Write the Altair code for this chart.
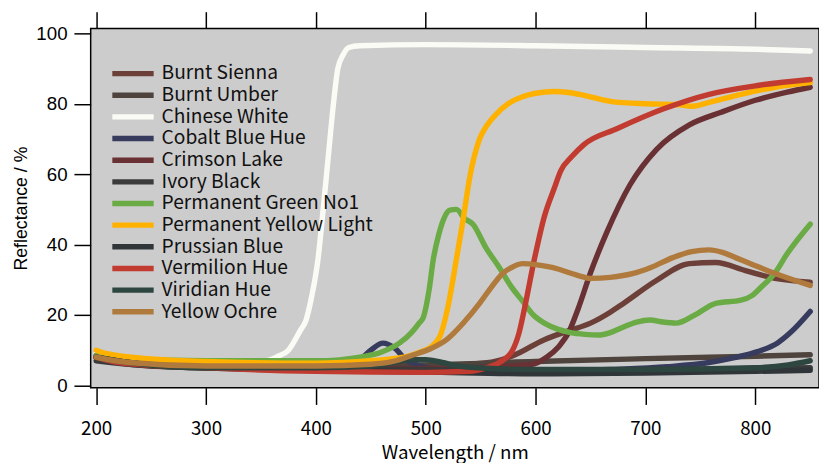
import altair as alt
import pandas as pd

names = ["Burnt Sienna", "Burnt Umber", "Chinese White", "Cobalt Blue Hue",
         "Crimson Lake", "Ivory Black", "Permanent Green No1",
         "Permanent Yellow Light", "Prussian Blue", "Vermilion Hue",
         "Viridian Hue", "Yellow Ochre"]
colors = ["#6c4038", "#4e433d", "#fbfbf6", "#373b5e", "#6a3135", "#3b3b3b",
          "#6aab45", "#ffb100", "#2f3539", "#c23b30", "#2e4640", "#b07a3c"]

x_ticks = [200, 300, 400, 500, 600, 700, 800]
y_ticks = [0, 20, 40, 60, 80, 100]

burnt_sienna_wl = [200, 220, 250, 300, 400, 500, 540, 563, 580, 608, 630, 650, 668, 680, 710, 740, 764, 791, 818, 850]
burnt_sienna_r = [8.5, 7, 6, 5.5, 5, 5.3, 6, 6.8, 8.5, 13, 15.5, 17.7, 20.8, 23.3, 29.8, 34.6, 34.9, 32.6, 30.4, 29.3]

burnt_umber_wl = [200, 220, 250, 300, 400, 500, 600, 700, 800, 850]
burnt_umber_r = [8, 6.8, 6, 5.5, 5.5, 5.8, 6.8, 7.6, 8.3, 8.7]

chinese_white_wl = [200, 220, 250, 300, 340, 355, 365, 375, 386, 391, 396, 402, 406, 411, 416, 420, 425, 430, 440, 500, 600, 700, 800, 850]
chinese_white_r = [9, 7.5, 7, 6.8, 6.6, 7, 8.2, 10, 15.7, 18.5, 25, 36, 48, 64, 80, 90, 94, 96, 96.5, 96.8, 96.5, 96, 95.5, 95]

cobalt_wl = [200, 220, 250, 300, 350, 420, 440, 450, 461, 472, 482, 495, 509, 549, 600, 668, 720, 758, 780, 802, 820, 832, 850]
cobalt_r = [8.5, 7, 6, 5.8, 6, 6.5, 7.5, 10, 12, 10.5, 7.3, 5.5, 4.5, 3.7, 3.9, 4.5, 5.3, 6.5, 7.8, 9.6, 12, 15, 21]

crimson_wl = [200, 220, 250, 300, 400, 500, 563, 597, 610, 621, 630, 639, 650, 665, 686, 710, 740, 769, 800, 829, 850]
crimson_r = [8, 6.5, 5.5, 5, 4.8, 4.8, 5.3, 6, 8, 11, 15, 22, 32, 43.6, 57, 67, 74, 77.6, 81, 83.3, 84.7]

ivory_wl = [200, 230, 300, 400, 500, 600, 700, 800, 850]
ivory_r = [7, 6, 5, 4.6, 4.5, 4.3, 4.5, 4.8, 5]

green_wl = [200, 230, 300, 400, 443, 460, 476, 487, 494, 498, 503, 507, 512, 516, 522, 528, 535, 543, 555, 567, 578, 588, 598, 608, 620, 632, 645, 657, 668, 680, 692, 704, 716, 728, 745, 764, 787, 797, 805, 818, 829, 850]
green_r = [8.5, 7.5, 7, 7, 8.2, 9.5, 12, 15, 17.7, 19.5, 27, 36, 43, 47, 49.8, 50, 47.5, 45.8, 39, 33.5, 28, 24, 20, 17.7, 16, 15, 14.5, 14.3, 15, 16.6, 18, 18.6, 18, 17.7, 20, 23.3, 24.2, 25.5, 27.8, 32, 37.4, 45.8]

yellow_wl = [200, 210, 250, 300, 400, 450, 480, 495, 505, 513, 520, 528, 534, 540, 549, 556, 564, 575, 588, 600, 617, 630, 644, 668, 700, 728, 743, 758, 787, 818, 850]
yellow_r = [10, 9, 7.5, 6.8, 6.3, 7, 8, 9.5, 11, 14, 22, 36, 47, 59, 70, 74, 77, 80, 82, 83, 83.5, 83.2, 82.4, 80.7, 80, 79.8, 79.3, 80.4, 82.7, 84.7, 86]

prussian_wl = [200, 230, 300, 400, 500, 600, 700, 800, 850]
prussian_r = [8, 6.5, 5, 4.3, 3.8, 3.3, 3.5, 4, 4.3]

vermilion_wl = [200, 220, 300, 400, 500, 540, 555, 567, 579, 585, 590, 599, 608, 617, 623, 633, 644, 674, 716, 758, 802, 850]
vermilion_r = [8, 6.5, 5, 4, 3.7, 4, 5, 6.5, 10, 15, 22, 36, 48, 56, 61, 65, 68.4, 72.9, 78.5, 82.7, 85.2, 86.9]

viridian_wl = [200, 230, 300, 400, 450, 470, 485, 500, 515, 530, 560, 600, 700, 800, 830, 850]
viridian_r = [8, 6.5, 5, 5, 5.5, 6.5, 7.3, 7.3, 6.5, 5.5, 4.8, 4.5, 4.5, 5, 5.8, 7]

ochre_wl = [200, 230, 300, 400, 450, 470, 489, 505, 519, 535, 549, 560, 570, 580, 588, 600, 615, 639, 650, 668, 689, 705, 725, 742, 758, 770, 782, 800, 818, 850]
ochre_r = [8, 6.5, 5.5, 5.5, 6, 6.8, 8.7, 10.5, 13, 18, 23.3, 28, 31.8, 33.8, 34.6, 34.3, 33.5, 31.2, 30.4, 30.7, 31.8, 33.5, 36.3, 38, 38.5, 37.8, 36.3, 34, 31.8, 28.4]

series = [
    (burnt_sienna_wl, burnt_sienna_r), (burnt_umber_wl, burnt_umber_r),
    (chinese_white_wl, chinese_white_r), (cobalt_wl, cobalt_r),
    (crimson_wl, crimson_r), (ivory_wl, ivory_r),
    (green_wl, green_r), (yellow_wl, yellow_r),
    (prussian_wl, prussian_r), (vermilion_wl, vermilion_r),
    (viridian_wl, viridian_r), (ochre_wl, ochre_r),
]

rows = []
for name, (wl, r) in zip(names, series):
    for w, v in zip(wl, r):
        rows.append({"Pigment": name, "wl": w, "r": v})
df = pd.DataFrame(rows)

xdom = [195, 858]
ydom = [-0.65, 101.4]
xscale = alt.Scale(domain=xdom, nice=False, zero=False)

lines = alt.Chart(df).mark_line(strokeWidth=5.5, interpolate="monotone", strokeCap="round").encode(
    x=alt.X("wl:Q", scale=xscale,
            axis=alt.Axis(title="Wavelength / nm", values=x_ticks,
                          tickSize=17, labelPadding=16, labelFont="Noto Sans CJK JP",
                          labelFontSize=19, titleFont="Noto Sans CJK JP", titleFontSize=19,
                          titleFontWeight="normal", titlePadding=5)),
    y=alt.Y("r:Q", scale=alt.Scale(domain=ydom, nice=False, zero=False),
            axis=alt.Axis(title="Reflectance / %", values=y_ticks,
                          tickSize=17, labelPadding=7, labelFont="Liberation Sans",
                          labelFontSize=19, titleFont="Liberation Sans", titleFontSize=18,
                          titleFontWeight="normal", titlePadding=5)),
    color=alt.Color("Pigment:N", scale=alt.Scale(domain=names, range=colors),
                    legend=alt.Legend(title=None, orient="none", legendX=19, legendY=35,
                                      padding=0, symbolType="stroke", symbolSize=1764,
                                      symbolStrokeWidth=5.5, labelFont="Noto Sans CJK JP",
                                      labelFontSize=19.5, labelColor="#111111",
                                      labelLimit=400, clipHeight=21.7,
                                      rowPadding=0, labelOffset=5)),
    order=alt.Order("Pigment:N"),
)

top = alt.Chart(pd.DataFrame({"wl": x_ticks})).mark_rule(opacity=0).encode(
    x=alt.X("wl:Q", scale=xscale,
            axis=alt.Axis(orient="top", title=None, labels=False, tickSize=17,
                          values=x_ticks)),
)

chart = alt.layer(lines, top).resolve_axis(x="independent").properties(
    width=740, height=365,
    autosize=alt.AutoSizeParams(type="none"),
    padding={"left": 84, "top": 17, "right": 0, "bottom": 90},
).configure_view(
    fill="#cccccc", stroke="#000000", strokeWidth=1.5
).configure_axis(
    domain=False, grid=False, tickColor="#000000", tickWidth=1.5,
    labelColor="#000000", titleColor="#000000"
)

chart.save("out.html", embed_options={"renderer": "svg", "actions": False})
